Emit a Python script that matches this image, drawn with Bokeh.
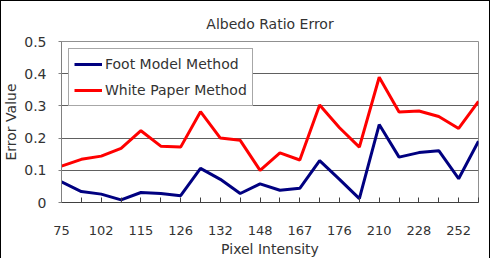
from bokeh.plotting import figure
from bokeh.models import Range1d, FixedTicker, Legend, LegendItem, InlineStyleSheet
from bokeh.embed import file_html
from bokeh.resources import INLINE

# Pixel intensity categories (only every other label is shown in the chart)
pixel_labels = ["75", "", "102", "", "115", "", "126", "", "132", "", "148", "",
                "167", "", "176", "", "210", "", "228", "", "252", ""]

foot_model = [0.064, 0.034, 0.026, 0.008, 0.031, 0.028, 0.021, 0.106, 0.072, 0.028, 0.058,
              0.038, 0.044, 0.130, 0.072, 0.012, 0.242, 0.141, 0.155, 0.161, 0.074, 0.190]
white_paper = [0.113, 0.134, 0.144, 0.168, 0.223, 0.175, 0.172, 0.282, 0.200, 0.193, 0.100,
               0.154, 0.132, 0.303, 0.232, 0.172, 0.389, 0.281, 0.284, 0.267, 0.230, 0.314]

y_ticks = [0, 0.1, 0.2, 0.3, 0.4, 0.5]

x = list(range(len(pixel_labels)))
FONT = "DejaVu Sans"
TXT = "#333333"

css = InlineStyleSheet(css=":host { outline: 1px solid #000000; outline-offset: -1px; "
                           "clip-path: inset(0px 0px 1px 0px); }")

p = figure(width=490, height=259, output_backend="svg", toolbar_location=None,
           x_range=Range1d(0, len(pixel_labels) - 1), y_range=Range1d(0, 0.5),
           min_border_left=59, min_border_right=12, min_border_top=41, min_border_bottom=57,
           stylesheets=[css])
p.border_fill_color = None
p.background_fill_color = "white"
p.outline_line_color = "#909090"
p.outline_line_width = 1

p.title.text = "Albedo Ratio Error"
p.title.align = "center"
p.title.text_font = FONT
p.title.text_font_size = "14px"
p.title.text_font_style = "normal"
p.title.text_color = TXT
p.title.offset = 0
p.title.standoff = 19

r1 = p.line(x, foot_model, line_color="#000080", line_width=3)
r2 = p.line(x, white_paper, line_color="#FF0000", line_width=3)

# x axis
p.xaxis.ticker = FixedTicker(ticks=x)
p.xaxis.major_label_overrides = {i: lab for i, lab in enumerate(pixel_labels)}
p.xaxis.major_tick_in = 5
p.xaxis.major_tick_out = 0
p.xaxis.minor_tick_line_color = None
p.xaxis.axis_line_color = "#404040"
p.xaxis.major_tick_line_color = "#404040"
p.xaxis.major_label_standoff = 23
p.xaxis.major_label_text_font = FONT
p.xaxis.major_label_text_font_size = "13px"
p.xaxis.major_label_text_color = TXT
p.xaxis.axis_label = "Pixel Intensity"
p.xaxis.axis_label_text_font = FONT
p.xaxis.axis_label_text_font_size = "14px"
p.xaxis.axis_label_text_font_style = "normal"
p.xaxis.axis_label_text_color = TXT
p.xaxis.axis_label_standoff = 3

# y axis
p.yaxis.ticker = FixedTicker(ticks=y_ticks)
p.yaxis.major_label_overrides = {0: "0"}
p.yaxis.major_tick_in = 0
p.yaxis.major_tick_out = 3
p.yaxis.minor_tick_line_color = None
p.yaxis.axis_line_color = "#808080"
p.yaxis.major_tick_line_color = "#808080"
p.yaxis.major_label_standoff = 12
p.yaxis.major_label_text_font = FONT
p.yaxis.major_label_text_font_size = "14px"
p.yaxis.major_label_text_color = TXT
p.yaxis.axis_label = "Error Value"
p.yaxis.axis_label_text_font = FONT
p.yaxis.axis_label_text_font_size = "14px"
p.yaxis.axis_label_text_font_style = "normal"
p.yaxis.axis_label_text_color = TXT
p.yaxis.axis_label_standoff = 2

p.xgrid.grid_line_color = None
p.ygrid.grid_line_color = "#606060"
p.ygrid.grid_line_width = 1

legend = Legend(items=[LegendItem(label="Foot Model Method", renderers=[r1]),
                       LegendItem(label="White Paper Method", renderers=[r2])],
                location="top_left")
legend.margin = 7
legend.padding = 5
legend.spacing = 6
legend.glyph_width = 28
legend.glyph_height = 20
legend.label_height = 20
legend.label_standoff = 3
legend.label_text_font = FONT
legend.label_text_font_size = "14px"
legend.label_text_color = TXT
legend.border_line_color = "#505050"
legend.border_line_width = 1
legend.background_fill_color = "white"
legend.background_fill_alpha = 1
p.add_layout(legend)

open("out.html", "w").write(file_html(p, INLINE))
